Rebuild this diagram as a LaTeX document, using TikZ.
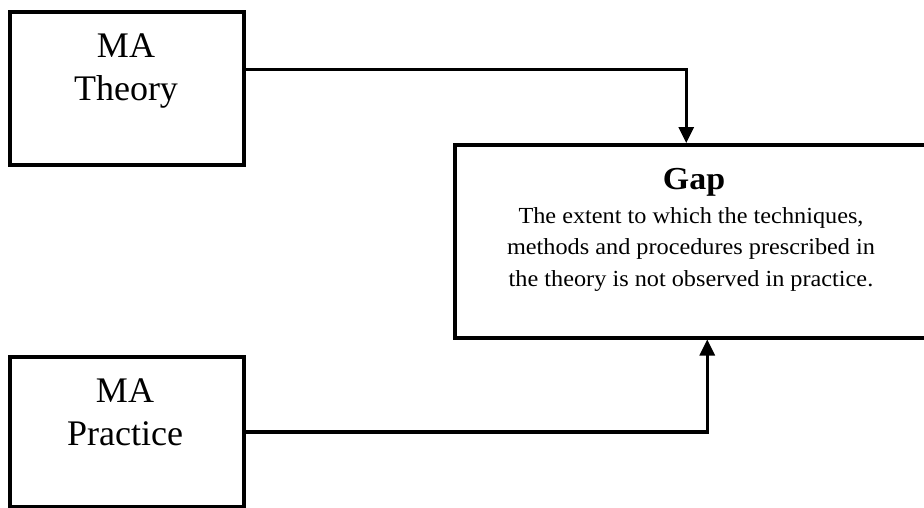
\documentclass[tikz,border=0pt]{standalone}
\usepackage{fontspec}
\setmainfont{Liberation Serif}
\usetikzlibrary{arrows.meta}
\newcommand{\wide}[1]{\scalebox{1.055}[1]{#1}}
\begin{document}
\begin{tikzpicture}[x=1pt,y=-1pt,
  box/.style={draw=black, line width=3.5pt, rectangle, inner sep=0pt},
  conn/.style={draw=black, line width=3.2pt, -{Triangle[width=15pt,length=16pt]}},
  bigtxt/.style={font=\fontsize{36}{43}\selectfont, align=center, inner sep=0pt},
  bodytxt/.style={font=\fontsize{23}{31.5}\selectfont, align=center, inner sep=0pt}]
\useasboundingbox (0,0) rectangle (924,507);
\node[box, minimum width=234pt, minimum height=153pt, anchor=north west] (theory) at (8,10) {};
\node[box, minimum width=234pt, minimum height=150pt, anchor=north west] (practice) at (8,355) {};
\node[box, minimum width=475pt, minimum height=193pt, anchor=north west] (gap) at (453,143) {};
\node[bigtxt, anchor=base] (theorytxt) at (126,100) {MA\\Theory};
\node[bigtxt, anchor=base] (practicetxt) at (125,445) {MA\\Practice};
\node[font=\fontsize{32}{36}\selectfont\bfseries, inner sep=0pt, anchor=base] (gaptitle) at (694,189) {\scalebox{1.06}[1]{Gap}};
\node[bodytxt, anchor=base] (gaptxt) at (691,286) {\wide{The extent to which the techniques,}\\\wide{methods and procedures prescribed in}\\\wide{the theory is not observed in practice.}};
\draw[conn] ([yshift=18.5pt]theory.east) -| ([xshift=-6pt]gap.north);
\draw[conn] (practice.east |- 0,432) -| ([xshift=15pt]gap.south);
\end{tikzpicture}
\end{document}
